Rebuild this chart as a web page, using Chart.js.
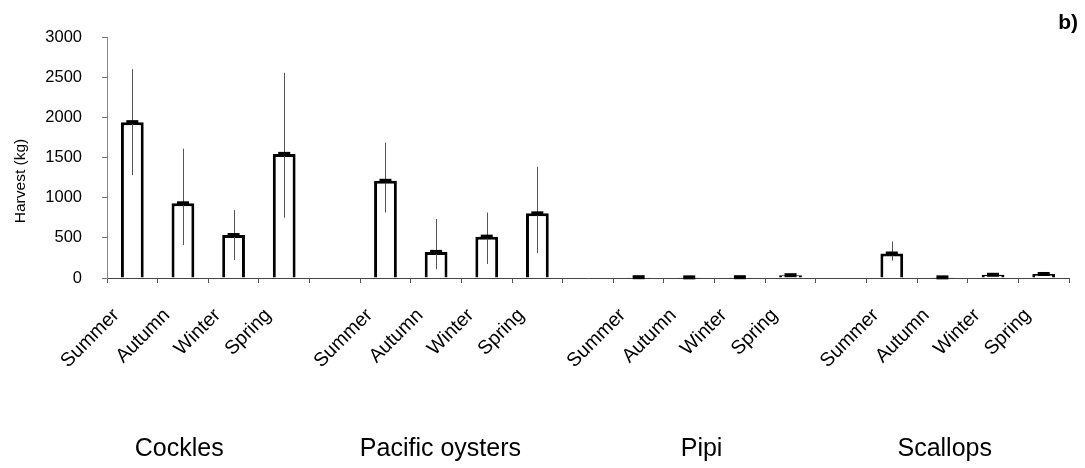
<!DOCTYPE html>
<html>
<head>
<meta charset="utf-8">
<title>Harvest by season</title>
<script src="https://cdn.jsdelivr.net/npm/chart.js@4.4.1/dist/chart.umd.min.js"></script>
<style>
  html, body { margin: 0; padding: 0; background: #fff; }
  canvas { display: block; }
</style>
</head>
<body>
<canvas id="harvest-chart" width="1085" height="468"></canvas>
<script>
// seasons per species, with an empty slot between species
const categories = [
  'Summer', 'Autumn', 'Winter', 'Spring', '',
  'Summer', 'Autumn', 'Winter', 'Spring', '',
  'Summer', 'Autumn', 'Winter', 'Spring', '',
  'Summer', 'Autumn', 'Winter', 'Spring'
];
const species = ['Cockles', 'Pacific oysters', 'Pipi', 'Scallops'];

// mean harvest (kg)
const harvest = [
  1940, 930, 535, 1545, null,
  1210, 325, 515, 805, null,
  10, 8, 10, 35, null,
  305, 8, 40, 50
];
// error bar ends (kg)
const upper = [
  2600, 1610, 845, 2555, null,
  1685, 735, 815, 1385, null,
  null, null, null, null, null,
  455, null, null, null
];
const lower = [
  1280, 410, 225, 750, null,
  815, 110, 175, 310, null,
  null, null, null, null, null,
  215, null, null, null
];

const yTicks = [0, 500, 1000, 1500, 2000, 2500, 3000];

const FONT = '"Liberation Sans", Arial, Helvetica, sans-serif';

const overlay = {
  id: 'overlay',
  afterDatasetsDraw(chart) {
    const { ctx, scales: { x, y } } = chart;
    const bars = chart.getDatasetMeta(0).data;
    ctx.save();
    bars.forEach((bar, i) => {
      if (harvest[i] == null) return;
      const cx = Math.round(bar.x) + 0.5;
      if (upper[i] != null) {
        ctx.strokeStyle = '#555';
        ctx.lineWidth = 1;
        ctx.beginPath();
        ctx.moveTo(cx, y.getPixelForValue(lower[i]));
        ctx.lineTo(cx, y.getPixelForValue(upper[i]));
        ctx.stroke();
      }
      // mean marker
      ctx.fillStyle = '#000';
      ctx.fillRect(bar.x - 6, y.getPixelForValue(harvest[i]) - 2, 12, 4);
    });
    ctx.restore();
  },
  afterDraw(chart) {
    const { ctx, scales: { x, y } } = chart;
    ctx.save();
    ctx.fillStyle = '#000';

    // species names under each group of seasons
    const shift = [-29, -21, -13, -23];
    ctx.font = '25px ' + FONT;
    ctx.textAlign = 'center';
    ctx.textBaseline = 'middle';
    species.forEach((name, g) => {
      const first = x.getPixelForValue(g * 5);
      const last = x.getPixelForValue(g * 5 + 3);
      ctx.fillText(name, (first + last) / 2 + shift[g], 449);
    });

    // y axis title
    ctx.save();
    ctx.translate(21, 181);
    ctx.rotate(-Math.PI / 2);
    ctx.font = '15.5px ' + FONT;
    ctx.fillText('Harvest (kg)', 0, 0);
    ctx.restore();

    // panel letter
    ctx.font = 'bold 21px ' + FONT;
    ctx.textAlign = 'right';
    ctx.fillText('b)', 1078, 23);
    ctx.restore();
  }
};

new Chart(document.getElementById('harvest-chart'), {
  type: 'bar',
  data: {
    labels: categories,
    datasets: [{
      data: harvest,
      backgroundColor: '#fff',
      borderColor: '#000',
      borderWidth: { left: 3, right: 3, top: 3, bottom: 0 },
      borderSkipped: false,
      barPercentage: 0.45,
      categoryPercentage: 1
    }]
  },
  options: {
    responsive: false,
    animation: false,
    devicePixelRatio: 1,
    layout: { padding: { left: 45, right: 16, top: 37, bottom: 0 } },
    plugins: {
      legend: { display: false },
      tooltip: { enabled: false }
    },
    scales: {
      x: {
        offset: true,
        grid: {
          offset: true,
          drawOnChartArea: false,
          drawTicks: true,
          tickLength: 5,
          color: '#555'
        },
        border: { color: '#444', width: 1 },
        ticks: {
          autoSkip: false,
          maxRotation: 45,
          minRotation: 45,
          labelOffset: -16,
          padding: 21,
          color: '#000',
          font: { family: FONT, size: 19.5 }
        },
        afterFit(scale) {
          scale.height = 190;
          scale.paddingLeft = 0;
          scale.paddingRight = 0;
        }
      },
      y: {
        min: 0,
        max: 3000,
        afterBuildTicks(scale) {
          scale.ticks = yTicks.map(v => ({ value: v }));
        },
        grid: {
          drawOnChartArea: false,
          drawTicks: true,
          tickLength: 5,
          color: '#777'
        },
        border: { color: '#888', width: 1 },
        ticks: {
          padding: 20,
          color: '#000',
          font: { family: FONT, size: 16.5 },
          callback: v => String(v)
        },
        afterFit(scale) {
          scale.width = 62;
        }
      }
    }
  },
  plugins: [overlay]
});
</script>
</body>
</html>
